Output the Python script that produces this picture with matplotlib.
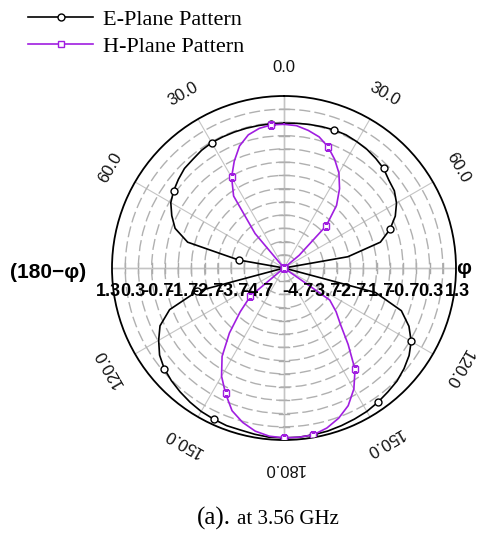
import numpy as np
import matplotlib
matplotlib.use("Agg")
import matplotlib.pyplot as plt
from matplotlib.lines import Line2D

# ---------------- data (dB, angle measured clockwise from top) ----------------
angles_deg = np.arange(0, 360, 5)

e_plane_db = [
    0.77, 0.79, 0.81, 0.83, 0.85, 0.85, 0.81, 0.77, 0.70, 0.62,   # 0-45
    0.47, 0.39, 0.21, -0.06, -0.44, -0.93, -2.25, -4.7, -4.7, -4.7,  # 50-95
    -4.7, -1.12, 0.02, 0.51, 0.85, 1.07, 1.22, 1.34, 1.41, 1.49,   # 100-145
    1.56, 1.60, 1.64, 1.68, 1.70, 1.72, 1.72, 1.72, 1.68, 1.64,    # 150-195
    1.64, 1.60, 1.56, 1.49, 1.41, 1.32, 1.21, 1.04, 0.77, 0.47,    # 200-245
    -0.10, -1.30, -4.7, -4.7, -4.7, -4.7, -2.96, -0.93, -0.32, -0.02,  # 250-295
    0.24, 0.39, 0.51, 0.62, 0.66, 0.73, 0.77, 0.77, 0.77, 0.77,    # 300-345
    0.77, 0.77,                                                    # 350-355
]

h_plane_db = [
    0.73, 0.70, 0.58, 0.43, 0.17, -0.17, -0.55, -1.04, -1.61, -2.44,  # 0-45
    -3.95, -4.7, -4.7, -4.7, -4.7, -4.7, -4.7, -4.7, -4.7, -4.7,      # 50-95
    -4.7, -4.7, -4.7, -4.7, -4.7, -2.59, -2.13, -1.68, -0.93, -0.02,  # 100-145
    0.58, 1.04, 1.34, 1.56, 1.70, 1.72, 1.72, 1.68, 1.56, 1.34,       # 150-195
    1.04, 0.53, 0.02, -0.62, -1.49, -2.36, -3.04, -4.7, -4.7, -4.7,   # 200-245
    -4.7, -4.7, -4.7, -4.7, -4.7, -4.7, -4.7, -4.7, -4.7, -4.7,       # 250-295
    -4.7, -4.7, -4.7, -4.7, -3.00, -1.38, -0.74, -0.25, 0.21, 0.51,   # 300-345
    0.66, 0.73,                                                       # 350-355
]

marker_angles = [20, 45, 70, 95, 120, 145, 170, 180, 205, 230, 255, 280, 305, 330, 355]

ring_values = [-4.2, -3.7, -3.2, -2.7, -2.2, -1.7, -1.2, -0.7, -0.2, 0.3, 0.8, 1.3]
radial_labels = ["-4.7", "-3.7", "-2.7", "-1.7", "-0.7", "0.3", "1.3"]
angle_ticks = [0, 30, 60, 120, 150, 180, 210, 240, 300, 330]
angle_texts = ["0.0", "30.0", "60.0", "120.0", "150.0", "180.0", "150.0", "120.0", "60.0", "30.0"]

series_names = ["E-Plane Pattern", "H-Plane Pattern"]
caption_a = "(a)."
caption_b = "at 3.56 GHz"

R_MIN, R_MAX = -4.7, 1.8

# ---------------- figure ----------------
W, H = 491, 535
fig = plt.figure(figsize=(W / 100, H / 100), dpi=100)
cx, cy, rad = 284, 268, 172
ax = fig.add_axes([(cx - rad) / W, (H - cy - rad) / H, 2 * rad / W, 2 * rad / H],
                  projection="polar")
ax.set_theta_zero_location("N")
ax.set_theta_direction(-1)
ax.set_ylim(R_MIN, R_MAX)
ax.set_yticks(ring_values)
ax.set_yticklabels([])
ax.set_xticks(np.deg2rad(np.arange(0, 360, 30)))
ax.set_xticklabels([])
ax.yaxis.grid(True, color="#b0b0b0", linestyle=(0, (8, 3)), linewidth=1.0)
ax.xaxis.grid(True, color="#c4c4c4", linestyle="-", linewidth=0.8)
ax.spines["polar"].set_color("black")
ax.spines["polar"].set_linewidth(1.3)
ax.tick_params(length=0)

# crossbars on main axes
px = 1.0 / (2 * rad)
for v in ring_values:
    rp = (v - R_MIN) / (R_MAX - R_MIN) * 0.5
    for sx, sy in [(0, 1), (0, -1), (1, 0), (-1, 0)]:
        if sx == 0:
            xs = [0.5 - 5 * px, 0.5 + 5 * px]
            ys = [0.5 + sy * rp] * 2
        else:
            xs = [0.5 + sx * rp] * 2
            ys = [0.5 - 5 * px, 0.5 + 5 * px]
        ax.plot(xs, ys, transform=ax.transAxes, color="#a8a8a8", lw=1.0, zorder=1,
                clip_on=False)
for sx, sy in [(0, 1), (1, 0)]:
    ax.plot([0.5 - sx * 0.5, 0.5 + sx * 0.5], [0.5 - sy * 0.5, 0.5 + sy * 0.5],
            transform=ax.transAxes, color="#a8a8a8", lw=1.0, zorder=1)

theta = np.deg2rad(np.append(angles_deg, 360))
e_vals = np.append(e_plane_db, e_plane_db[0])
h_vals = np.append(h_plane_db, h_plane_db[0])
mk_idx = [int(a // 5) for a in marker_angles]

purple = "#a01ee0"
ax.plot(theta, e_vals, color="black", lw=1.2, marker="o", markersize=5,
        markerfacecolor="white", markeredgecolor="black", markeredgewidth=1.0,
        markevery=mk_idx, zorder=3)
ax.plot(theta, h_vals, color=purple, lw=1.2, marker="s", markersize=5,
        markerfacecolor="white", markeredgecolor=purple, markeredgewidth=1.0,
        markevery=mk_idx, zorder=4)

# angle labels
lab_r = 201 / (2 * rad)
for a, t in zip(angle_ticks, angle_texts):
    ar = np.deg2rad(a)
    x = 0.5 + lab_r * np.sin(ar)
    y = 0.5 + lab_r * np.cos(ar)
    ax.text(x, y, t, transform=ax.transAxes, ha="center", va="center",
            rotation=-a, rotation_mode="anchor", fontsize=12,
            family="Liberation Sans", color="#111111")

ax.text(0.5 + 180 * px, 0.5, "φ", transform=ax.transAxes, ha="center", va="center",
        fontsize=15, fontweight="bold", family="Liberation Sans")
fig.text(10 / W, 1 - 272 / H, "(180−φ)", ha="left", va="center",
         fontsize=15, fontweight="bold", family="Liberation Sans")

# radial labels along horizontal axis
yl = 0.5 - 24 * px
for k, t in enumerate(radial_labels):
    ax.text(0.5 - (26 + 25.0 * k) * px, yl, t, transform=ax.transAxes,
            ha="center", va="center", fontsize=13, fontweight="bold",
            family="Liberation Sans", zorder=6)
for k, t in enumerate(radial_labels):
    ax.text(0.5 + (14 + 26.5 * k) * px, yl, t, transform=ax.transAxes,
            ha="center", va="center", fontsize=13, fontweight="bold",
            family="Liberation Sans", zorder=6)

# legend
handles = [
    Line2D([], [], color="black", lw=1.2, marker="o", markersize=5,
           markerfacecolor="white", markeredgecolor="black"),
    Line2D([], [], color=purple, lw=1.2, marker="s", markersize=5,
           markerfacecolor="white", markeredgecolor=purple),
]
fig.legend(handles, series_names, loc="upper left",
           bbox_to_anchor=(24 / W, 1 - 5 / H), frameon=False,
           prop={"family": "Liberation Serif", "size": 16},
           handlelength=2.9, handletextpad=0.45, labelspacing=0.3,
           borderpad=0.2, borderaxespad=0)

# caption
fig.text(231 / W, 1 - 518 / H, caption_a, ha="right", va="center",
         fontsize=18, family="Liberation Serif")
fig.text(237 / W, 1 - 520 / H, caption_b, ha="left", va="center",
         fontsize=15, family="Liberation Serif")

fig.savefig("out.png", dpi=100)
